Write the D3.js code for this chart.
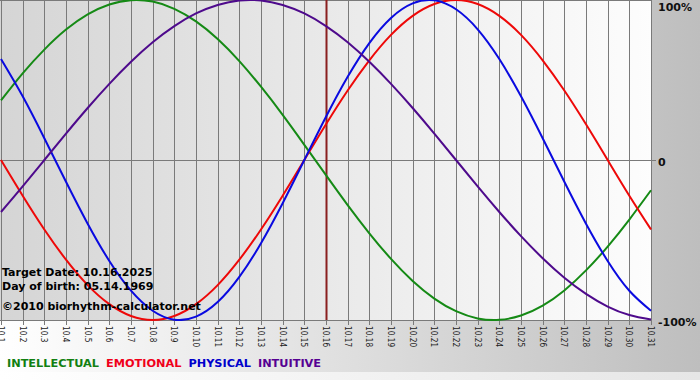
<!DOCTYPE html>
<html>
<head>
<meta charset="utf-8">
<script src="https://cdn.jsdelivr.net/npm/d3@7"></script>
<style>
  body { margin: 0; background: #fff; }
  svg { display: block; font-family: "DejaVu Sans", Verdana, sans-serif; }
</style>
</head>
<body>
<div id="chart"></div>
<script>
// day labels along the bottom
const days = ["10.1","10.2","10.3","10.4","10.5","10.6","10.7","10.8","10.9","10.10",
  "10.11","10.12","10.13","10.14","10.15","10.16","10.17","10.18","10.19","10.20",
  "10.21","10.22","10.23","10.24","10.25","10.26","10.27","10.28","10.29","10.30","10.31"];

// values, -1 .. 1
const intellectual = [0.372,0.541,0.690,0.815,0.910,0.972,0.999,0.990,0.945,0.866,
  0.756,0.618,0.458,0.282,0.095,-0.095,-0.282,-0.458,-0.618,-0.756,
  -0.866,-0.945,-0.990,-0.999,-0.972,-0.910,-0.815,-0.690,-0.541,-0.372,-0.189];
const emotional = [0,-0.223,-0.434,-0.623,-0.782,-0.901,-0.975,-1,-0.975,-0.901,
  -0.782,-0.623,-0.434,-0.223,0,0.223,0.434,0.623,0.782,0.901,
  0.975,1,0.975,0.901,0.782,0.623,0.434,0.223,0,-0.223,-0.434];
const physical = [0.631,0.398,0.136,-0.136,-0.398,-0.631,-0.817,-0.942,-0.998,-0.979,
  -0.888,-0.731,-0.520,-0.270,0,0.270,0.520,0.731,0.888,0.979,
  0.998,0.942,0.817,0.631,0.398,0.136,-0.136,-0.398,-0.631,-0.817,-0.942];
const intuitive = [-0.325,-0.165,0,0.165,0.325,0.476,0.614,0.736,0.837,0.916,
  0.969,0.997,0.997,0.969,0.916,0.837,0.736,0.614,0.476,0.325,
  0.165,0,-0.165,-0.325,-0.476,-0.614,-0.736,-0.837,-0.916,-0.969,-0.997];

const seriesNames = ["INTELLECTUAL", "EMOTIONAL", "PHYSICAL", "INTUITIVE"];
const yTicks = [1, 0, -1];
const yTickLabels = ["100%", "0", "-100%"];
const targetDay = "10.16";
const infoLines = ["Target Date: 10.16.2025", "Day of birth: 05.14.1969", "©2010 biorhythm-calculator.net"];

const width = 700, height = 380;
const plot = {left: 1, right: 651, top: 1, bottom: 320};

const lineColors = {INTELLECTUAL: "#158a15", EMOTIONAL: "#ee0808", PHYSICAL: "#0a0ae0", INTUITIVE: "#4e0a8c"};
const legendColors = {INTELLECTUAL: "#128012", EMOTIONAL: "#f0001a", PHYSICAL: "#0000cc", INTUITIVE: "#560092"};

const svg = d3.select("#chart").append("svg")
    .attr("width", width)
    .attr("height", height);

const defs = svg.append("defs");

function hGrad(id, from, to) {
  const g = defs.append("linearGradient").attr("id", id)
      .attr("x1", "0%").attr("x2", "100%").attr("y1", "0%").attr("y2", "0%");
  g.append("stop").attr("offset", "0%").attr("stop-color", from);
  g.append("stop").attr("offset", "100%").attr("stop-color", to);
}
hGrad("bgGrad", "#ffffff", "#bebebe");
hGrad("stripGrad", "#ffffff", "#e6e6e6");
hGrad("plotGrad", "#d5d5d5", "#fdfdfd");

defs.append("clipPath").attr("id", "plotClip")
  .append("rect").attr("x", 0).attr("y", 0).attr("width", plot.right + 1).attr("height", plot.bottom + 1);

// backgrounds
svg.append("rect").attr("width", width).attr("height", height).attr("fill", "url(#bgGrad)");
svg.append("rect").attr("x", 0).attr("y", 372).attr("width", width).attr("height", height - 372)
    .attr("fill", "url(#stripGrad)");
svg.append("rect").attr("x", 0).attr("y", 0).attr("width", plot.right + 1).attr("height", plot.bottom + 1)
    .attr("fill", "url(#plotGrad)");

// scales
const x = d3.scalePoint().domain(days).range([plot.left, plot.right]);
const y = d3.scaleLinear().domain([-1, 1]).range([plot.bottom, plot.top - 1]);

const px = v => Math.round(v) + 0.5;

// vertical day grid lines with ticks below the plot
svg.append("g")
  .selectAll("line")
  .data(days)
  .enter().append("line")
    .attr("x1", d => px(x(d)))
    .attr("x2", d => px(x(d)))
    .attr("y1", 0)
    .attr("y2", plot.bottom + 5)
    .attr("stroke", "#7a7a7a")
    .attr("stroke-width", 1);

// borders and zero line
svg.append("line").attr("x1", 0).attr("x2", plot.right + 1)
    .attr("y1", 0.5).attr("y2", 0.5).attr("stroke", "#7a7a7a");
svg.append("line").attr("x1", 0).attr("x2", plot.right + 1)
    .attr("y1", px(y(-1))).attr("y2", px(y(-1))).attr("stroke", "#7a7a7a");
svg.append("line").attr("x1", 0).attr("x2", plot.right + 5)
    .attr("y1", px(y(0))).attr("y2", px(y(0))).attr("stroke", "#7a7a7a");

// target day marker
svg.append("line")
    .attr("x1", x(targetDay) + 0.5).attr("x2", x(targetDay) + 0.5)
    .attr("y1", 0).attr("y2", plot.bottom)
    .attr("stroke", "#8a1f1f")
    .attr("stroke-width", 2);

// curves
const seriesData = [intellectual, emotional, physical, intuitive];
const line = d3.line()
    .x((d, i) => x(days[i]))
    .y(d => y(d))
    .curve(d3.curveNatural);

svg.append("g")
    .attr("clip-path", "url(#plotClip)")
  .selectAll("path")
  .data(seriesData)
  .enter().append("path")
    .attr("d", line)
    .attr("fill", "none")
    .attr("stroke", (d, i) => lineColors[seriesNames[i]])
    .attr("stroke-width", 2);

// day labels, rotated (slightly condensed along the reading direction)
svg.append("g")
  .selectAll("text")
  .data(days)
  .enter().append("text")
    .attr("transform", d => `translate(${px(x(d))},${plot.bottom + 6}) rotate(90) scale(0.82,1)`)
    .attr("dy", "0.36em")
    .attr("font-size", "9px")
    .attr("fill", "#1a1a1a")
    .text(d => d);

// right axis labels
svg.append("g")
  .selectAll("text")
  .data(yTicks)
  .enter().append("text")
    .attr("x", 658)
    .attr("y", d => Math.max(y(d) + 5.5, 11))
    .attr("font-size", "11px")
    .attr("font-weight", "bold")
    .attr("fill", "#111")
    .text((d, i) => yTickLabels[i]);

// info text
const infoY = [276, 290, 310];
svg.append("g")
  .selectAll("text")
  .data(infoLines)
  .enter().append("text")
    .attr("x", 2)
    .attr("y", (d, i) => infoY[i])
    .attr("font-size", "11px")
    .attr("font-weight", "bold")
    .attr("fill", "#000")
    .text(d => d);

// legend
let lx = 7;
seriesNames.forEach(name => {
  const t = svg.append("text")
      .attr("x", lx)
      .attr("y", 367)
      .attr("font-size", "11.3px")
      .attr("font-weight", "bold")
      .attr("fill", legendColors[name])
      .text(name);
  lx += t.node().getComputedTextLength() + 7;
});
</script>
</body>
</html>
